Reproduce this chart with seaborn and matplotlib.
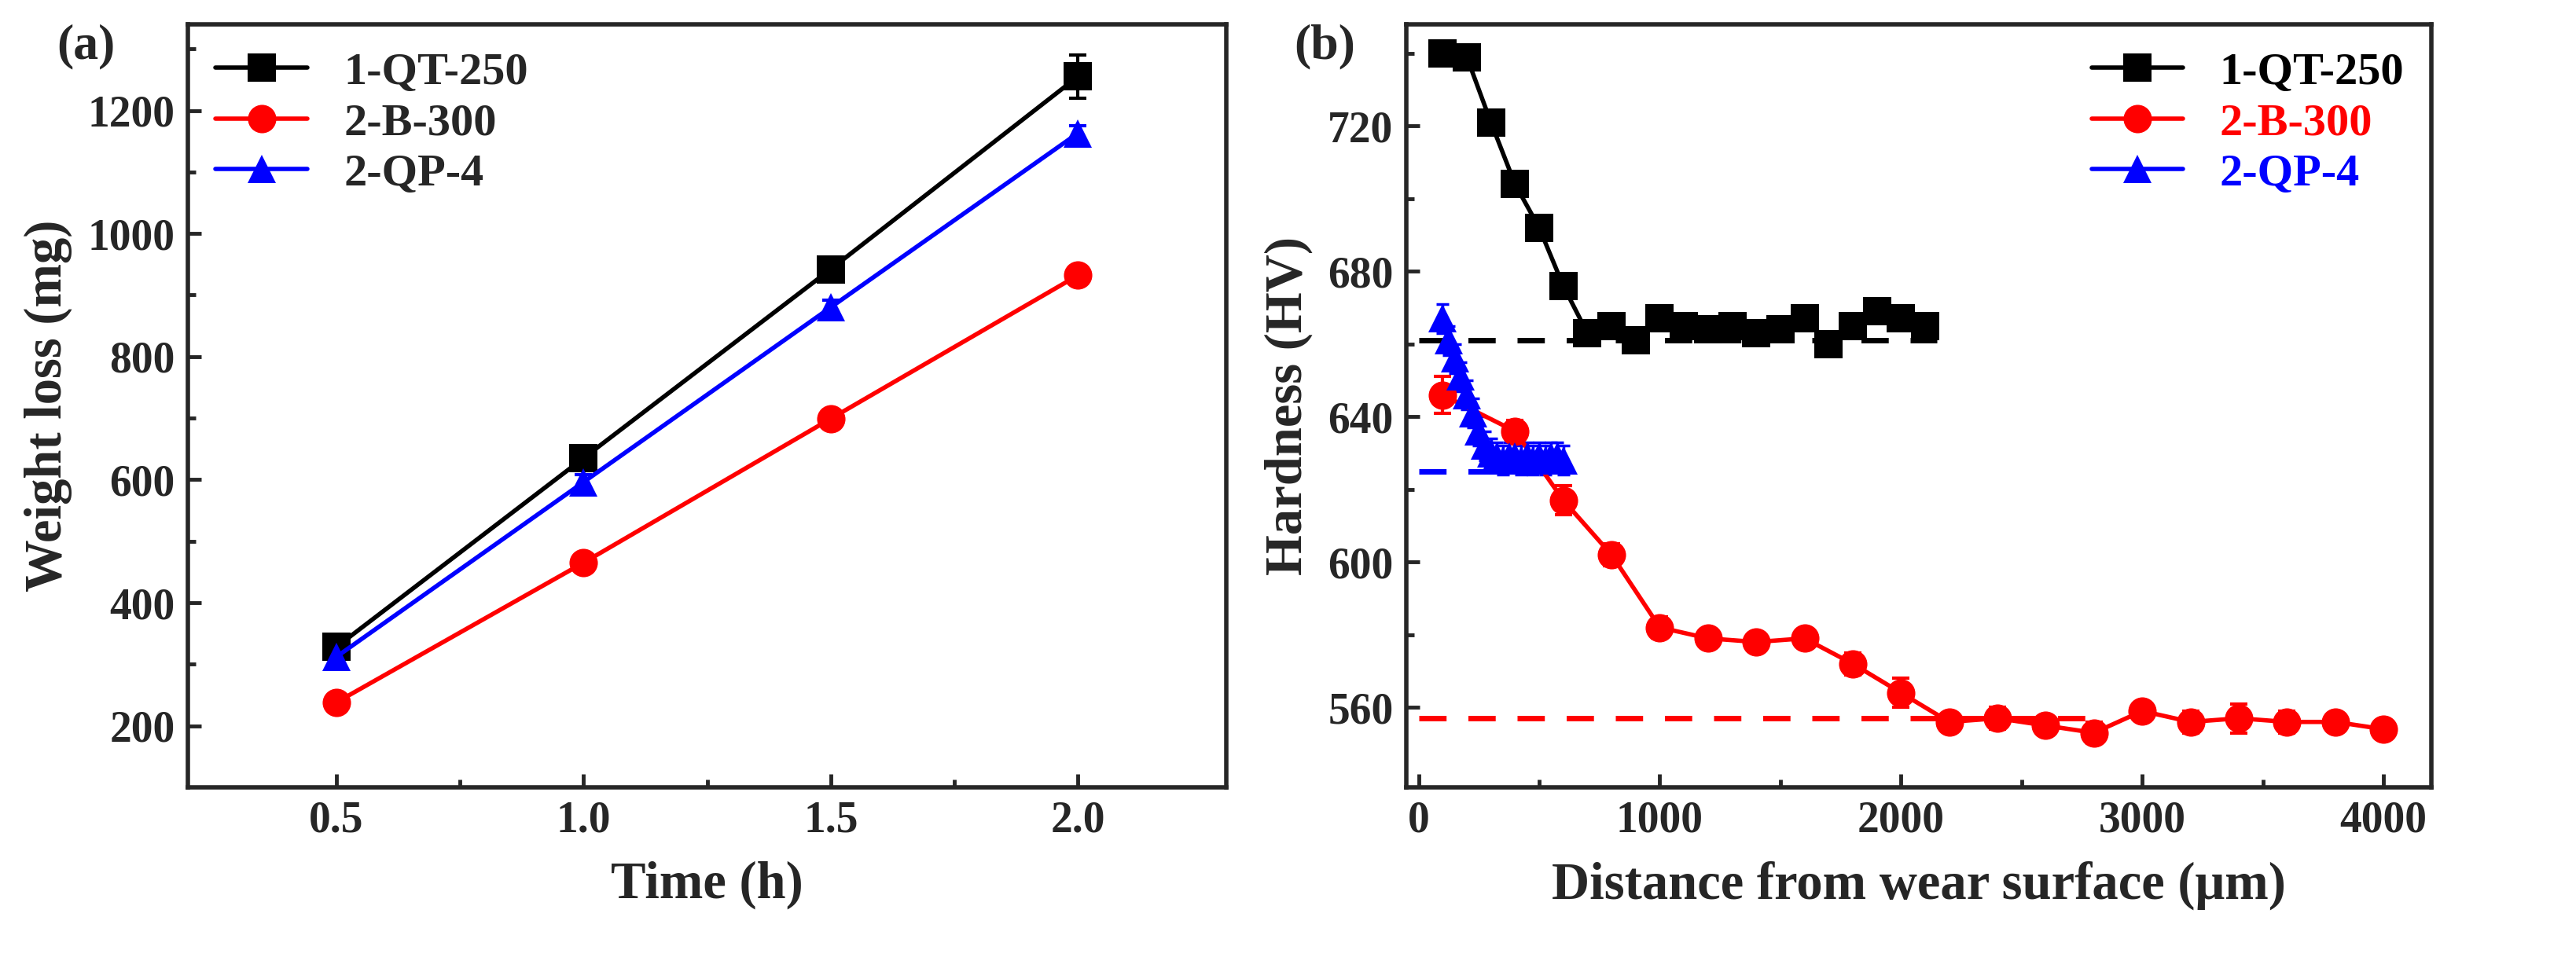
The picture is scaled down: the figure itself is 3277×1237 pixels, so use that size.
import numpy as np
import pandas as pd
import matplotlib
matplotlib.use('Agg')
import matplotlib.pyplot as plt
import seaborn as sns

sns.set_theme(style='ticks')
plt.rcParams['font.family'] = ['Liberation Serif', 'DejaVu Serif']
plt.rcParams['font.weight'] = 'bold'

# (a) weight loss
time_h = [0.5, 1.0, 1.5, 2.0]
qt_loss = [328, 635, 942, 1255]
qt_err = [12, 10, 15, 35]
b_loss = [238, 465, 699, 932]
b_err = [8, 8, 8, 8]
qp_loss = [312, 596, 880, 1163]
qp_err = [12, 12, 12, 12]

# (b) hardness profiles
qt_x = [100, 200, 300, 400, 500, 600, 700, 800, 900, 1000, 1100, 1200, 1300,
        1400, 1500, 1600, 1700, 1800, 1900, 2000, 2100]
qt_hv = [740, 739, 721, 704, 692, 676, 663, 665, 661, 667, 665, 664, 665,
         663, 664, 667, 660, 665, 669, 667, 665]
b_x = [100, 400, 600, 800, 1000, 1200, 1400, 1600, 1800, 2000, 2200, 2400,
       2600, 2800, 3000, 3200, 3400, 3600, 3800, 4000]
b_hv = [646, 636, 617, 602, 582, 579, 578, 579, 572, 564, 556, 557,
        555, 553, 559, 556, 557, 556, 556, 554]
b_hv_err = [5, 3, 4, 3, 3, 2, 2, 2, 3, 4, 2, 3, 2, 3, 2, 3, 4, 3, 2, 2]
qp_x = [100, 125, 150, 175, 200, 225, 250, 275, 300, 325, 350, 375, 400,
        425, 450, 475, 500, 525, 550, 575, 600]
qp_hv = [667, 661, 656, 651, 646, 641, 636, 632, 630, 629, 628, 629, 629,
         628, 629, 628, 629, 628, 629, 629, 628]
base_hv = {'1-QT-250': (661, 2150), '2-B-300': (557, 2800), '2-QP-4': (625, 560)}

colors = {'1-QT-250': 'black', '2-B-300': 'red', '2-QP-4': 'blue'}
markers = {'1-QT-250': 's', '2-B-300': 'o', '2-QP-4': '^'}

fig = plt.figure(figsize=(32.77, 12.37), dpi=100)
ax1 = fig.add_axes([0.073, 0.19, 0.403, 0.785])
ax2 = fig.add_axes([0.546, 0.19, 0.398, 0.785])

wl = pd.DataFrame({
    'Time': time_h * 3,
    'Loss': qt_loss + b_loss + qp_loss,
    'Err': qt_err + b_err + qp_err,
    'Steel': ['1-QT-250'] * 4 + ['2-B-300'] * 4 + ['2-QP-4'] * 4,
})
for name, d in wl.groupby('Steel', sort=False):
    ax1.errorbar(d['Time'], d['Loss'], yerr=d['Err'], fmt='none',
                 ecolor=colors[name], capsize=8, elinewidth=3, capthick=3)
sns.lineplot(data=wl, x='Time', y='Loss', hue='Steel', style='Steel',
             palette=colors, markers=markers, dashes=False, markersize=26,
             markeredgewidth=0, linewidth=4, ax=ax1)
ax1.set_xlim(0.2, 2.3)
ax1.set_ylim(100, 1340)
ax1.set_xticks([0.5, 1.0, 1.5, 2.0])
ax1.set_yticks([200, 400, 600, 800, 1000, 1200])
ax1.set_xlabel('Time (h)', fontsize=48, fontweight='bold', labelpad=18)
ax1.set_ylabel('Weight loss (mg)', fontsize=48, fontweight='bold', labelpad=14)
leg = ax1.legend(loc='upper left', fontsize=42, frameon=False,
                 handlelength=2.0, borderaxespad=0.2, labelspacing=0.2)
for t in leg.get_texts():
    t.set_fontweight('bold')

hv = pd.DataFrame({
    'Dist': qt_x + b_x + qp_x,
    'HV': qt_hv + b_hv + qp_hv,
    'Steel': ['1-QT-250'] * len(qt_x) + ['2-B-300'] * len(b_x) + ['2-QP-4'] * len(qp_x),
})
ax2.errorbar(b_x, b_hv, yerr=b_hv_err, fmt='none', ecolor='red',
             capsize=8, elinewidth=3, capthick=3)
ax2.errorbar(qp_x, qp_hv, yerr=[4] * len(qp_x), fmt='none', ecolor='blue',
             capsize=6, elinewidth=2.5, capthick=2.5)
for name, (y0, xend) in base_hv.items():
    ax2.plot([0, xend], [y0, y0], color=colors[name], lw=5, ls=(0, (5, 4)))
sns.lineplot(data=hv, x='Dist', y='HV', hue='Steel', style='Steel',
             palette=colors, markers=markers, dashes=False, markersize=26,
             markeredgewidth=0, linewidth=4, ax=ax2)
ax2.set_xlim(-50, 4200)
ax2.set_ylim(538, 748)
ax2.set_xticks([0, 1000, 2000, 3000, 4000])
ax2.set_xticks([500, 1500, 2500, 3500], minor=True)
ax2.set_yticks([560, 600, 640, 680, 720])
ax2.set_yticks([580, 620, 660, 700, 740], minor=True)
ax2.set_xlabel('Distance from wear surface (\u03bcm)', fontsize=48, fontweight='bold', labelpad=18)
ax2.set_ylabel('Hardness (HV)', fontsize=48, fontweight='bold', labelpad=14)
leg = ax2.legend(loc='upper right', fontsize=42, frameon=False,
                 handlelength=2.0, borderaxespad=0.2, labelspacing=0.2)
for t in leg.get_texts():
    t.set_fontweight('bold')
    t.set_color(colors[t.get_text()])

for ax, lab in [(ax1, '(a)'), (ax2, '(b)')]:
    for s in ax.spines.values():
        s.set_linewidth(4)
    ax.tick_params(which='major', direction='in', length=12, width=3.5, labelsize=40, pad=12)
    ax.tick_params(which='minor', direction='in', length=7, width=3.5)
    for t in ax.get_xticklabels() + ax.get_yticklabels():
        t.set_fontweight('bold')
    ax.text(-0.07 if ax is ax1 else -0.05, 1.0, lab, transform=ax.transAxes,
            fontsize=46, fontweight='bold', va='top', ha='right')
ax1.set_xticks([0.75, 1.25, 1.75], minor=True)
ax1.set_yticks([300, 500, 700, 900, 1100, 1300], minor=True)

fig.savefig('out.png', dpi=100)
